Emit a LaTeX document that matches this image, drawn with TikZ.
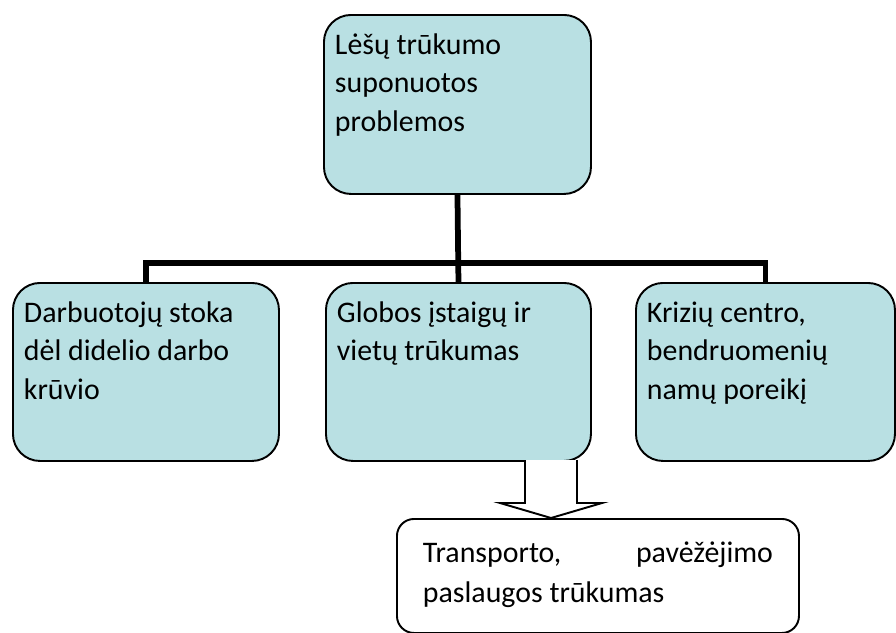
\documentclass[tikz,border=0pt]{standalone}
\usepackage{fontspec}
\setmainfont{Carlito}
\usetikzlibrary{positioning}
\definecolor{cardfill}{RGB}{185,224,227}

\tikzset{
    card/.style={draw, line width=1.1pt, rounded corners=5.4mm, fill=cardfill,
                 anchor=north west, inner xsep=2.2mm, inner ysep=2.4mm,
                 font=\fontsize{17}{22}\selectfont},
    plaincard/.style={card, fill=white, rounded corners=3.4mm, inner xsep=5.2mm},
    link/.style={line width=1.15mm},
    hollow/.style={draw, line width=1.1pt, fill=white, line join=miter}
}

\begin{document}
\begin{tikzpicture}[x=0.2mm, y=-0.2mm]
    \useasboundingbox (0,0) rectangle (896,633);

    % Top box
    \node[card] (prob) at (323,14)
        {\parbox[t][31mm][t]{49mm}{\raggedright\strut L\.e\v{s}ų trūkumo\\ suponuotos\\ problemos}};

    % Three boxes below
    \node[card] (staff) at (12,282)
        {\parbox[t][30.8mm][t]{48.8mm}{\raggedright\strut Darbuotojų stoka\\ dėl didelio darbo\\ krūvio}};
    \node[card] (care) at (325,282)
        {\parbox[t][30.8mm][t]{48.6mm}{\raggedright\strut Globos įstaigų ir\\ vietų trūkumas}};
    \node[card] (crisis) at (635,282)
        {\parbox[t][30.8mm][t]{47.4mm}{\raggedright\strut Krizių centro,\\ bendruomenių\\ namų poreikį}};

    % Bottom box
    \node[plaincard, inner ysep=3mm] (transp) at (396,518)
        {\parbox[t][16.8mm][t]{70mm}{\fontsize{17}{23}\selectfont\strut Transporto, \hfill pavėžėjimo\\ paslaugos trūkumas}};

    % Connectors
    \coordinate (bus) at (457,263);
    \draw[link] (prob.south) -- (care.north);
    \draw[link] (staff.north) |- (bus) -| (crisis.north);

    % Hollow arrow down to the bottom box
    \coordinate (tip) at (551,518);
    \draw[hollow] (tip) ++(-26,-58) -- ++(0,43) -- ++(-25,0) -- (tip)
        -- ++(51,-15) -- ++(-25,0) -- ++(0,-43);
\end{tikzpicture}
\end{document}
